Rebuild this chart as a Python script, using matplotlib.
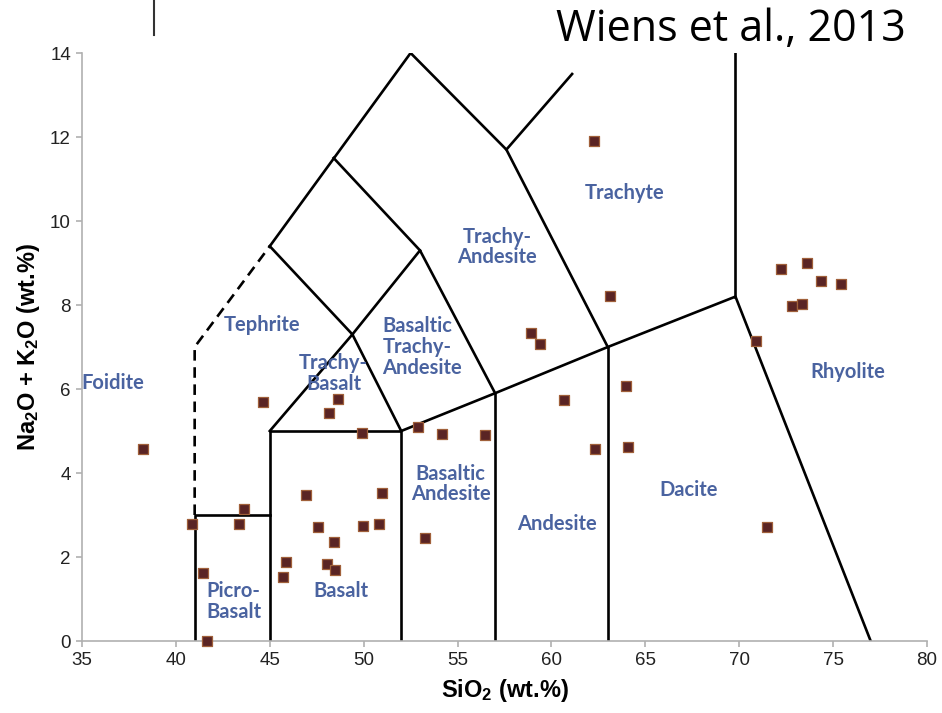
import numpy as np
import matplotlib
matplotlib.use("Agg")
import matplotlib.pyplot as plt

plt.rcParams["mathtext.default"] = "regular"

# sample data (SiO2, Na2O+K2O), wt.%
sio2 = [44.65, 48.65, 48.15, 49.93, 38.26, 52.91, 54.19, 56.46, 58.89, 59.39,
        46.91, 51.00, 43.65, 40.84, 43.36, 47.55, 49.98, 50.83, 53.26, 48.44,
        45.84, 45.68, 48.03, 48.47, 41.46, 41.64,
        62.24, 63.11, 72.25, 73.63, 74.38, 75.44, 72.80, 73.34, 70.89, 63.97,
        60.68, 62.32, 64.09, 71.49]
alkali = [5.70, 5.76, 5.42, 4.96, 4.57, 5.10, 4.94, 4.91, 7.33, 7.06,
          3.47, 3.52, 3.14, 2.79, 2.78, 2.72, 2.74, 2.79, 2.45, 2.35,
          1.87, 1.53, 1.83, 1.69, 1.61, 0.00,
          11.90, 8.22, 8.85, 8.99, 8.56, 8.50, 7.98, 8.02, 7.15, 6.08,
          5.75, 4.57, 4.63, 2.71]

# TAS field boundaries as polylines
boundaries = [
    [(41, 0), (41, 3), (45, 3)],
    [(45, 0), (45, 5), (52, 5), (52, 0)],
    [(52, 5), (57, 5.9), (63, 7), (69.8, 8.2), (77, 0)],
    [(57, 0), (57, 5.9)],
    [(63, 0), (63, 7)],
    [(69.8, 8.2), (69.8, 14)],
    [(45, 5), (49.4, 7.3), (52, 5)],
    [(45, 9.4), (49.4, 7.3)],
    [(49.4, 7.3), (53, 9.3), (57, 5.9)],
    [(48.4, 11.5), (53, 9.3)],
    [(57.6, 11.7), (63, 7)],
    [(45, 9.4), (52.5, 14), (57.6, 11.7), (61.1, 13.5)],
]
dashed = [(41, 3), (41, 7), (45, 9.4)]

field_names = ["Foidite", "Tephrite", "Trachy-\nBasalt", "Basaltic\nTrachy-\nAndesite",
               "Basaltic\nAndesite", "Picro-\nBasalt", "Basalt", "Andesite", "Dacite",
               "Rhyolite", "Trachyte", "Trachy-\nAndesite"]
field_x = [36.65, 44.6, 48.4, 51.0, 54.64, 41.64, 48.77, 60.27, 67.29, 75.8, 63.91, 57.1]
field_y = [6.14, 7.52, 6.36, 7.0, 3.74, 0.94, 1.20, 2.79, 3.6, 6.41, 10.66, 9.38]
field_ha = ["center", "center", "center", "left", "center", "left", "center",
            "center", "center", "center", "center", "center"]

fig = plt.figure(figsize=(9.42, 7.13), dpi=100)
ax = fig.add_axes([82 / 942, 1 - 641 / 713, 845 / 942, 588 / 713])

for seg in boundaries:
    xs, ys = zip(*seg)
    ax.plot(xs, ys, color="black", lw=1.9, zorder=2)
xs, ys = zip(*dashed)
ax.plot(xs, ys, color="black", lw=1.9, ls=(0, (4, 2.5)), zorder=2)

ax.scatter(sio2, alkali, marker="s", s=45, facecolor="#5a2424",
           edgecolor="#a0603a", linewidth=0.9, zorder=3, clip_on=False)

for name, x, y, ha in zip(field_names, field_x, field_y, field_ha):
    ax.text(x, y, name, ha=ha, va="center", fontsize=14.5, fontweight="bold",
            family="Lato", color="#4a63a0", linespacing=1.05, zorder=4)

ax.set_xlim(35, 80)
ax.set_ylim(0, 14)
ax.set_xticks(np.arange(35, 81, 5))
ax.set_yticks(np.arange(0, 15, 2))
for side in ["top", "right"]:
    ax.spines[side].set_visible(False)
for side in ["left", "bottom"]:
    ax.spines[side].set_color("#b0b0b0")
    ax.spines[side].set_linewidth(1.2)
ax.tick_params(colors="#b0b0b0", labelcolor="#222222", length=4, width=1.2,
               labelsize=13.5, pad=4)
for lab in ax.get_xticklabels() + ax.get_yticklabels():
    lab.set_family("Liberation Sans")

ax.set_xlabel("SiO$_2$ (wt.%)", fontsize=17, fontweight="bold",
              family="Liberation Sans", labelpad=6)
ax.set_ylabel("Na$_2$O + K$_2$O (wt.%)", fontsize=17, fontweight="bold",
              family="Liberation Sans", labelpad=6)

fig.text(0.961, 0.958, "Wiens et al., 2013", ha="right", va="center",
         fontsize=31, family="Open Sans", color="black")
fig.add_artist(plt.Line2D([154 / 942, 154 / 942], [1, 1 - 35 / 713],
                          color="#333333", lw=1.5))

fig.savefig("out.png", dpi=100)
